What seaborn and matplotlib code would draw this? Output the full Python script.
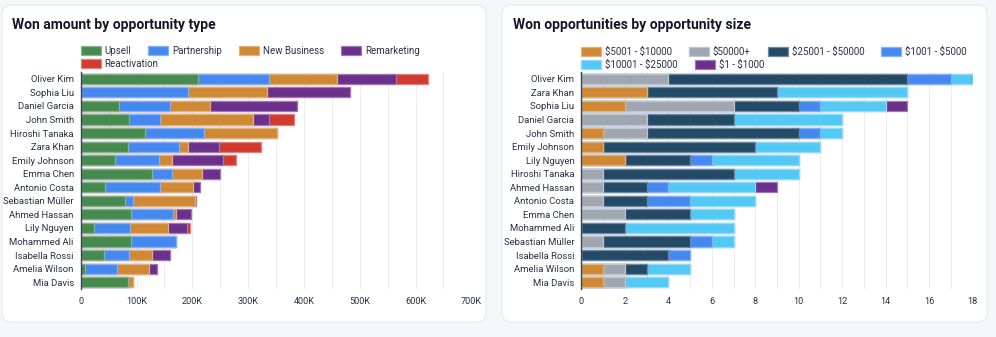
import matplotlib
matplotlib.use("Agg")
import matplotlib.pyplot as plt
from matplotlib.patches import FancyBboxPatch, Patch
from matplotlib.transforms import IdentityTransform
from matplotlib.ticker import MultipleLocator, FuncFormatter
from matplotlib.colors import to_rgb
import pandas as pd
import seaborn as sns

# ---- Won amount by opportunity type (values in $K) ----
reps_amount = ["Oliver Kim", "Sophia Liu", "Daniel Garcia", "John Smith", "Hiroshi Tanaka",
               "Zara Khan", "Emily Johnson", "Emma Chen", "Antonio Costa", "Sebastian Müller",
               "Ahmed Hassan", "Lily Nguyen", "Mohammed Ali", "Isabella Rossi", "Amelia Wilson",
               "Mia Davis"]
upsell       = [211, 0, 69, 86, 115, 85, 62, 128, 44, 79, 91, 23, 91, 42, 8, 85]
partnership  = [127, 192, 91, 56, 106, 91, 79, 36, 99, 15, 75, 65, 79, 44, 57, 0]
new_business = [121, 142, 71, 167, 130, 16, 22, 53, 59, 111, 5, 69, 0, 42, 57, 9]
remarketing  = [106, 149, 157, 29, 0, 55, 92, 32, 12, 2, 26, 34, 0, 32, 15, 0]
reactivation = [57, 0, 0, 45, 0, 76, 24, 0, 0, 0, 0, 5, 0, 0, 0, 0]
type_names = ["Upsell", "Partnership", "New Business", "Remarketing", "Reactivation"]
type_colors = ["#468a4f", "#4589f0", "#cf8833", "#6b2f8c", "#d13b2f"]

# ---- Won opportunities by opportunity size (counts) ----
reps_size = ["Oliver Kim", "Zara Khan", "Sophia Liu", "Daniel Garcia", "John Smith",
             "Emily Johnson", "Lily Nguyen", "Hiroshi Tanaka", "Ahmed Hassan", "Antonio Costa",
             "Emma Chen", "Mohammed Ali", "Sebastian Müller", "Isabella Rossi", "Amelia Wilson",
             "Mia Davis"]
size_5001_10000  = [0, 3, 2, 0, 1, 1, 2, 0, 0, 0, 0, 0, 0, 0, 1, 1]
size_50000_plus  = [4, 0, 5, 3, 2, 0, 0, 1, 1, 1, 2, 0, 1, 0, 1, 1]
size_25001_50000 = [11, 6, 3, 4, 7, 7, 3, 6, 2, 2, 3, 2, 4, 4, 1, 0]
size_1001_5000   = [2, 0, 1, 0, 1, 0, 1, 0, 1, 2, 0, 0, 1, 1, 0, 0]
size_10001_25000 = [1, 6, 3, 5, 1, 3, 4, 3, 4, 3, 2, 5, 1, 0, 2, 2]
size_1_1000      = [0, 0, 1, 0, 0, 0, 0, 0, 1, 0, 0, 0, 0, 0, 0, 0]
size_names = ["$5001 - $10000", "$50000+", "$25001 - $50000", "$1001 - $5000",
              "$10001 - $25000", "$1 - $1000"]
size_colors = ["#cf8833", "#a0a7b1", "#234a66", "#4589f0", "#52c8f5", "#6b2f8c"]

amount_df = pd.DataFrame(dict(zip(type_names, [upsell, partnership, new_business,
                                               remarketing, reactivation])), index=reps_amount)
size_df = pd.DataFrame(dict(zip(size_names, [size_5001_10000, size_50000_plus, size_25001_50000,
                                             size_1001_5000, size_10001_25000, size_1_1000])),
                       index=reps_size)

sns.set_theme(style="white")
plt.rcParams["font.family"] = ["Roboto", "DejaVu Sans"]
plt.rcParams["text.parse_math"] = False

W, H = 996, 337
fig = plt.figure(figsize=(W / 100, H / 100), dpi=100)
fig.patch.set_facecolor("#f5f8fb")

TEXT = "#2b3047"
GRID = "#eceef2"


def lighten(c, f=0.35):
    r, g, b = to_rgb(c)
    return (r + (1 - r) * f, g + (1 - g) * f, b + (1 - b) * f)


# white cards behind each chart (pixel coordinates)
for x0, x1 in [(2, 486), (502, 987)]:
    card = FancyBboxPatch((x0, H - 322), x1 - x0, 317,
                          boxstyle="round,pad=0,rounding_size=9",
                          transform=IdentityTransform(), facecolor="white",
                          edgecolor="#e5e8ed", linewidth=0.8, zorder=-5)
    fig.patches.append(card)


def stacked(ax, df, colors):
    order = list(df.index)
    cum = df.cumsum(axis=1)
    cols = list(df.columns)
    # draw cumulative totals from the outermost series inward so each segment shows
    for i in range(len(cols) - 1, -1, -1):
        sns.barplot(x=cum[cols[i]].values, y=order, order=order, orient="h",
                    color=colors[i], saturation=1, width=0.75, errorbar=None,
                    edgecolor=lighten(colors[i]), linewidth=0.9, ax=ax, zorder=3)
    ax.set_ylabel("")
    ax.set_xlabel("")
    for s in ["top", "right", "bottom"]:
        ax.spines[s].set_visible(False)
    ax.spines["left"].set_color("#3d4252")
    ax.spines["left"].set_linewidth(1.0)
    ax.spines["left"].set_zorder(5)
    ax.tick_params(axis="both", length=0, labelcolor=TEXT)
    ax.tick_params(axis="y", pad=5, labelsize=6.8)
    ax.tick_params(axis="x", pad=6, labelsize=6.6)
    ax.grid(True, axis="x", which="both", color=GRID, linewidth=0.8, zorder=0)
    ax.set_axisbelow(True)
    ax.set_ylim(len(order) - 0.5, -0.5)


def legend_rows(ax, names, colors, rows, ys):
    fs = 7
    for row, y in zip(rows, ys):
        handles = [Patch(facecolor=colors[i], edgecolor=lighten(colors[i]), linewidth=0.9,
                         label=names[i]) for i in row]
        leg = ax.legend(handles=handles, loc="center left", ncol=len(handles),
                        bbox_to_anchor=(ax.get_position().x0, y),
                        bbox_transform=fig.transFigure, frameon=False, fontsize=fs,
                        handlelength=2.05, handleheight=1.0, handletextpad=0.4,
                        columnspacing=1.75, borderpad=0, borderaxespad=0)
        for t in leg.get_texts():
            t.set_color(TEXT)
        ax.add_artist(leg)
    # every row is already attached as an artist
    ax.legend_ = None


# ---- left chart ----
ax1 = fig.add_axes([80.7 / W, 1 - 289 / H, (471.3 - 80.7) / W, (289 - 72) / H])
ax1.set_facecolor("none")
stacked(ax1, amount_df, type_colors)
ax1.set_xlim(0, 700)
ax1.xaxis.set_major_locator(MultipleLocator(100))
ax1.xaxis.set_minor_locator(MultipleLocator(50))
ax1.xaxis.set_major_formatter(FuncFormatter(lambda v, p: "0" if v == 0 else f"{int(v)}K"))
legend_rows(ax1, type_names, type_colors, [[0, 1, 2, 3], [4]], [1 - 51 / H, 1 - 64 / H])
fig.text(12 / W, 1 - 25 / H, "Won amount by opportunity type", fontsize=10,
         fontweight="bold", color="#14172a", va="center", ha="left")

# ---- right chart ----
ax2 = fig.add_axes([581.3 / W, 1 - 289 / H, (972.7 - 581.3) / W, (289 - 72) / H])
ax2.set_facecolor("none")
stacked(ax2, size_df, size_colors)
ax2.set_xlim(0, 18)
ax2.xaxis.set_major_locator(MultipleLocator(2))
ax2.xaxis.set_minor_locator(MultipleLocator(1))
legend_rows(ax2, size_names, size_colors, [[0, 1, 2, 3], [4, 5]], [1 - 52 / H, 1 - 65 / H])
fig.text(512.7 / W, 1 - 25 / H, "Won opportunities by opportunity size", fontsize=10,
         fontweight="bold", color="#14172a", va="center", ha="left")

fig.savefig("out.png", dpi=100, facecolor=fig.get_facecolor())
